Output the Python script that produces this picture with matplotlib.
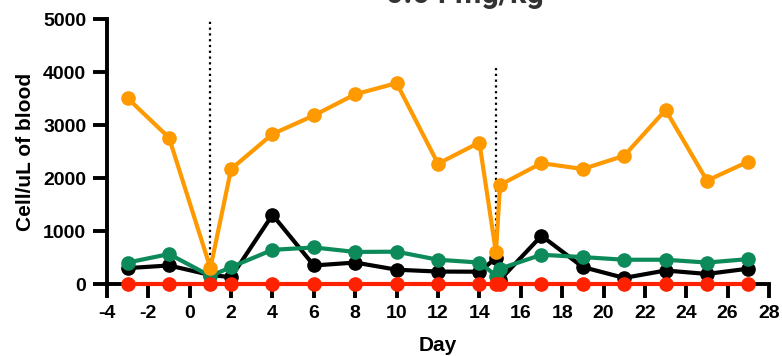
import matplotlib
matplotlib.use("Agg")
import matplotlib.pyplot as plt

# days sampled (two samples around the second dosing, ~day 14.8 and 15)
days = [-3, -1, 1, 2, 4, 6, 8, 10, 12, 14, 14.8, 15, 17, 19, 21, 23, 25, 27]

# cells/uL of blood per population
orange_vals = [3505, 2760, 300, 2170, 2830, 3180, 3580, 3790, 2270, 2670,
               600, 1870, 2280, 2170, 2420, 3285, 1950, 2310]
black_vals = [300, 350, 170, 130, 1305, 350, 405, 270, 235, 232,
              490, 80, 910, 320, 115, 255, 190, 290]
green_vals = [405, 565, 150, 320, 645, 690, 605, 610, 458, 405,
              160, 290, 552, 508, 458, 458, 405, 470]
red_vals = [0] * len(days)

dose_days = [1, 14.8]
dose_tops = [5000, 4100]

x_ticks = list(range(-4, 29, 2))
y_ticks = [0, 1000, 2000, 3000, 4000, 5000]

plt.rcParams['font.family'] = ['Liberation Sans', 'DejaVu Sans']
plt.rcParams['font.weight'] = 'bold'
plt.rcParams['axes.unicode_minus'] = False

fig = plt.figure(figsize=(7.82, 3.56), dpi=100)
ax = fig.add_axes([0.1368, 0.2022, 0.8466, 0.7444])

# dosing markers
for d, top in zip(dose_days, dose_tops):
    ax.plot([d, d], [0, top], color='black', linestyle=(0, (1, 1.6)),
            linewidth=1.6, zorder=1, clip_on=False)

series = [
    (black_vals, 'black', 2),
    (green_vals, '#0C8A5A', 3),
    (orange_vals, '#FF9900', 4),
    (red_vals, '#FF2200', 5),
]
for vals, col, z in series:
    ax.plot(days, vals, color=col, linewidth=3.0, marker='o',
            markersize=9.5, zorder=z, clip_on=False)

ax.set_xlim(-4, 28)
ax.set_ylim(0, 5000)
ax.set_xticks(x_ticks)
ax.set_yticks(y_ticks)

for side in ['top', 'right']:
    ax.spines[side].set_visible(False)
for side in ['left', 'bottom']:
    ax.spines[side].set_linewidth(2.8)
ax.tick_params(axis='both', direction='out', width=2.8, length=10,
               labelsize=14, pad=5)
for lab in ax.get_xticklabels() + ax.get_yticklabels():
    lab.set_fontweight('bold')

ax.set_xlabel('Day', fontsize=15, fontweight='bold', labelpad=10)
ax.set_ylabel('Cell/uL of blood', fontsize=15, fontweight='bold', labelpad=6)

# title, mostly cut off at the top of the image (as in the source)
fig.text(0.595, 0.992, '0.04 mg/kg', ha='center', va='baseline',
         fontsize=22, fontweight='bold', color='#333333', family='Roboto')

fig.savefig('out.png', dpi=100)
